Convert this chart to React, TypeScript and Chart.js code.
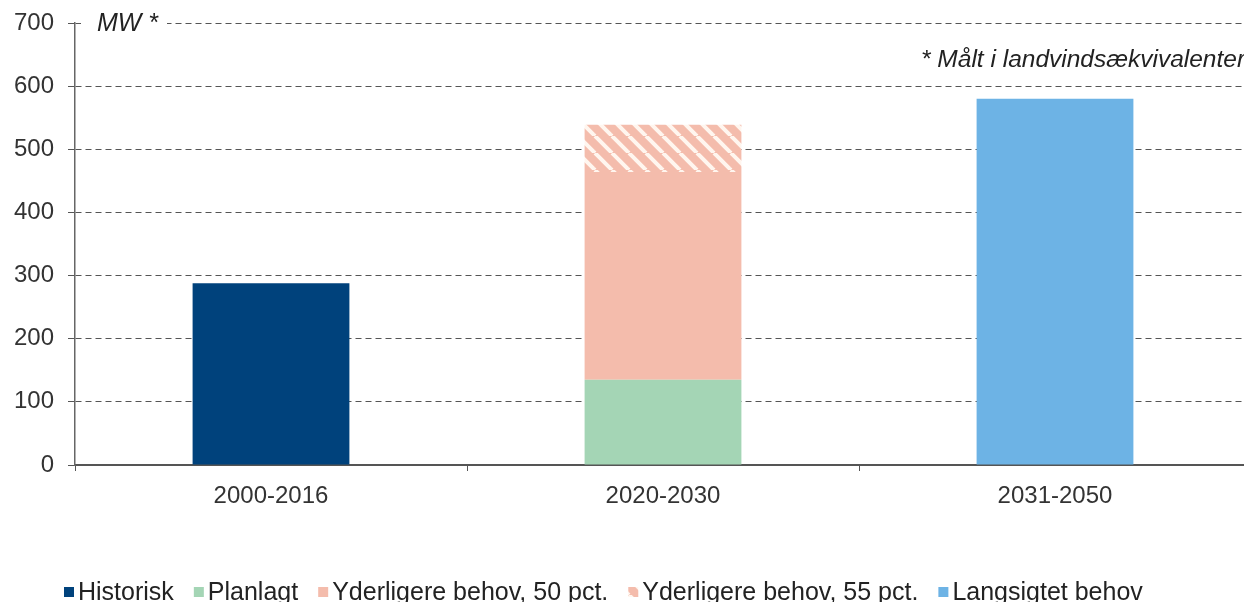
import React, { useEffect, useRef } from "react";
import { Chart, registerables } from "chart.js";

Chart.register(...registerables);

const categories = ["2000-2016", "2020-2030", "2031-2050"];
const historisk = [288, null, null];
const planlagt = [null, 135, null];
const yderligere50 = [null, 329, null];
const yderligere55 = [null, 75, null];
const langsigtet = [null, null, 580];
const seriesNames = [
  "Historisk",
  "Planlagt",
  "Yderligere behov, 50 pct.",
  "Yderligere behov, 55 pct.",
  "Langsigtet behov",
];
const yMin = 0;
const yMax = 700;
const yStep = 100;
const unitLabel = "MW *";
const noteLabel = "* Målt i landvindsækvivalenter";

const FONT = "'Liberation Sans', Arial, sans-serif";
const PINK = "#F4BCAC";

function makeHatch(): CanvasPattern | string {
  const s = 17;
  const c = document.createElement("canvas");
  c.width = s;
  c.height = s;
  const ctx = c.getContext("2d");
  if (!ctx) return PINK;
  ctx.fillStyle = PINK;
  ctx.fillRect(0, 0, s, s);
  ctx.strokeStyle = "#FFF6EF";
  ctx.lineWidth = 4;
  for (const x0 of [-s, 0, s]) {
    ctx.beginPath();
    ctx.moveTo(x0, 0);
    ctx.lineTo(x0 + s, s);
    ctx.stroke();
  }
  const p = ctx.createPattern(c, "repeat");
  return p || PINK;
}

const overlayPlugin = {
  id: "overlay",
  afterDraw(chart: any) {
    const ctx = chart.ctx as CanvasRenderingContext2D;
    const area = chart.chartArea;
    ctx.save();
    // unit label with white background over top gridline
    ctx.fillStyle = "#ffffff";
    ctx.fillRect(area.left + 6, area.top - 12, 86, 24);
    ctx.fillStyle = "#222";
    ctx.font = `italic 25px ${FONT}`;
    ctx.textAlign = "left";
    ctx.textBaseline = "middle";
    ctx.fillText(unitLabel, area.left + 22, area.top + 1);
    // note
    ctx.font = `italic 24.5px ${FONT}`;
    ctx.fillText(noteLabel, 921, 60);

    // legend
    ctx.font = `25px ${FONT}`;
    const items = chart.data.datasets.map((d: any) => ({
      label: d.label,
      color: d.backgroundColor,
      w: ctx.measureText(d.label).width,
    }));
    const box = 10;
    const gapBox = 4;
    const gapItem = 20;
    let x = 64;
    const yc = 592;
    for (const it of items) {
      ctx.fillStyle = it.color;
      ctx.fillRect(x, yc - box / 2, box, box);
      ctx.fillStyle = "#222";
      ctx.fillText(it.label, x + box + gapBox, yc + 1);
      x += box + gapBox + it.w + gapItem;
    }
    ctx.restore();
  },
};

export default function App() {
  const ref = useRef<HTMLCanvasElement | null>(null);
  useEffect(() => {
    if (!ref.current) return;
    const hatch = makeHatch();
    const chart = new Chart(ref.current, {
      type: "bar",
      data: {
        labels: categories,
        datasets: [
          { label: seriesNames[0], data: historisk, backgroundColor: "#00427C" },
          { label: seriesNames[1], data: planlagt, backgroundColor: "#A4D5B5" },
          { label: seriesNames[2], data: yderligere50, backgroundColor: PINK },
          { label: seriesNames[3], data: yderligere55, backgroundColor: hatch as any },
          { label: seriesNames[4], data: langsigtet, backgroundColor: "#6DB3E5" },
        ],
      },
      options: {
        responsive: false,
        animation: false,
        layout: { padding: { top: 23, right: 5, bottom: 0, left: 0 } },
        datasets: {
          bar: { barPercentage: 0.4, categoryPercentage: 1 },
        },
        plugins: {
          legend: { display: false },
          tooltip: { enabled: false },
        },
        scales: {
          x: {
            stacked: true,
            afterFit: (axis: any) => {
              axis.height = 137;
              axis.paddingLeft = 0;
              axis.paddingRight = 0;
            },
            grid: {
              display: true,
              drawOnChartArea: false,
              offset: true,
              tickLength: 6,
              color: "#555",
            },
            border: { display: true, color: "#555", width: 2 },
            ticks: {
              padding: 11,
              color: "#333",
              font: { family: FONT, size: 24 },
            },
          },
          y: {
            stacked: true,
            min: yMin,
            max: yMax,
            afterFit: (axis: any) => {
              axis.width = 75;
              axis.paddingTop = 0;
              axis.paddingBottom = 0;
            },
            ticks: {
              stepSize: yStep,
              padding: 14,
              color: "#333",
              font: { family: FONT, size: 24 },
            },
            grid: {
              color: "#555",
              lineWidth: 1,
              tickLength: 7,
              tickBorderDash: [],
            },
            border: { display: true, color: "#666", width: 1.5, dash: [6, 4] },
          },
        },
      },
      plugins: [overlayPlugin],
    });
    return () => chart.destroy();
  }, []);
  return (
    <div
      style={{
        position: "fixed",
        left: 0,
        top: 0,
        width: 1244,
        height: 602,
        overflow: "hidden",
        background: "#fff",
      }}
    >
      <canvas ref={ref} width={1256} height={602} style={{ display: "block" }} />
    </div>
  );
}
